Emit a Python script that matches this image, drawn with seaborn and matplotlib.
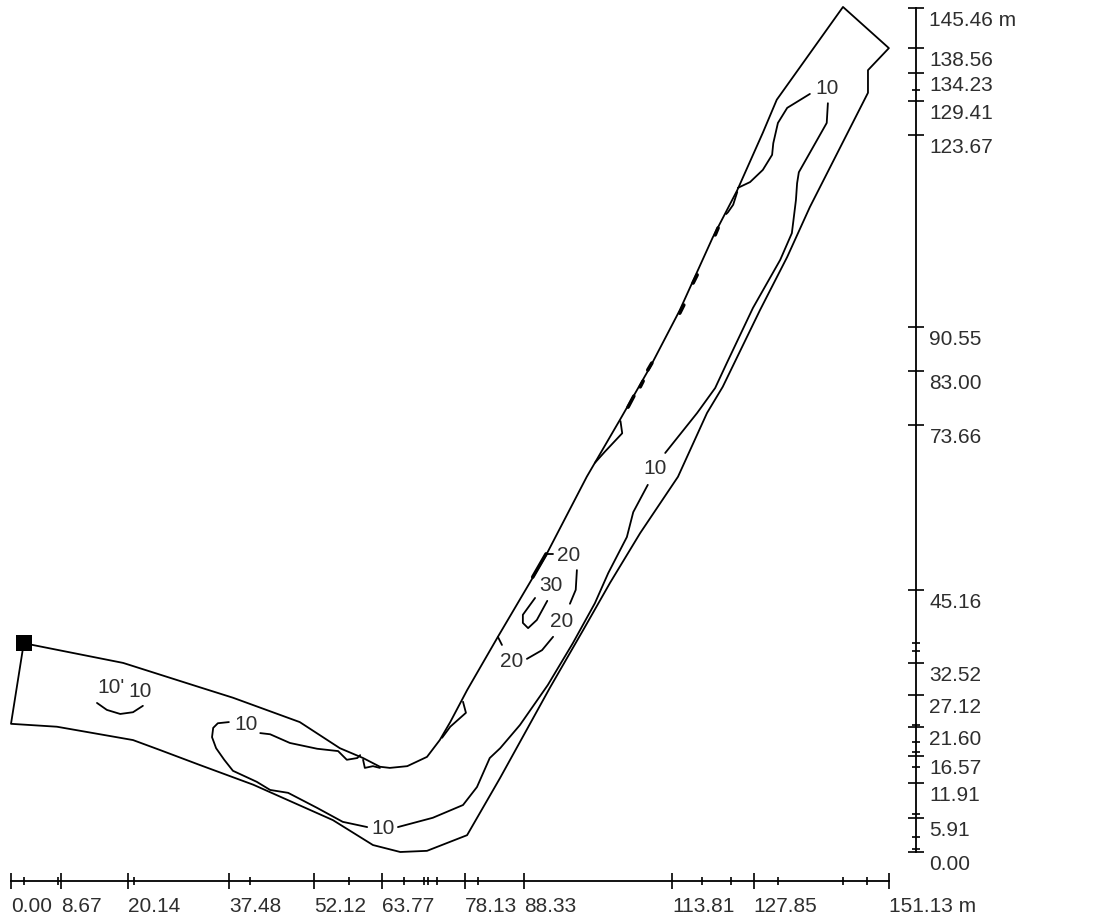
import numpy as np
import pandas as pd
import matplotlib
matplotlib.use("Agg")
import matplotlib.pyplot as plt
import seaborn as sns
from matplotlib.transforms import ScaledTranslation

sns.set_theme(style='white')
plt.rcParams['font.family'] = ['Liberation Sans', 'DejaVu Sans']

# channel outline, metres
outline_x = [2.2, 19.3, 32.5, 38.2, 49.7, 56.6, 60.6, 63.5, 65.2, 68.2, 71.6, 73.8, 75.6, 78.5,
             83.8, 92.1, 99.1, 104.8, 110.0, 115.1, 120.8, 125.0, 129.4, 131.8, 143.2, 151.1,
             147.5, 147.5, 137.5, 133.6, 128.9, 122.5, 119.8, 114.8, 108.3, 103.1, 98.5, 92.8, 84.2, 78.5,
             71.6, 67.0, 62.3, 55.4, 41.7, 32.5, 25.6, 21.0, 7.9, 0.0, 2.2]
outline_y = [36.0, 32.6, 28.4, 26.6, 22.4, 17.9, 16.2, 14.7, 14.5, 14.8, 16.4, 19.3, 22.4, 27.9,
             37.1, 51.2, 64.7, 74.5, 83.6, 93.4, 106.0, 114.1, 124.0, 129.7, 145.7, 138.6,
             134.8, 130.9, 111.2, 102.6, 93.4, 80.2, 75.7, 64.7, 55.0, 46.4, 38.3, 28.4, 12.8, 2.9,
             0.2, 0.0, 1.2, 5.5, 11.6, 15.0, 17.6, 19.3, 21.6, 22.1, 36.0]

# isolines, each broken where its label sits
iso_parts = {
    'arc': ([14.8, 16.5, 18.8, 21.0, 22.7],
            [25.7, 24.5, 23.8, 24.1, 25.2]),
    'low1': ([37.5, 35.6, 34.8, 34.6, 35.3, 36.7, 38.2, 42.3, 44.6, 47.7, 52.7, 57.1, 61.3],
             [22.4, 22.2, 21.4, 19.8, 17.9, 15.9, 14.0, 12.1, 10.7, 10.2, 7.6, 5.2, 4.3]),
    'low2': ([66.6, 72.6, 77.8, 80.2, 82.4, 84.2, 87.6, 92.4, 96.7, 100.5, 102.8, 106.0, 107.1, 109.6],
             [4.3, 5.9, 8.1, 11.2, 16.2, 17.9, 21.9, 28.8, 36.0, 42.9, 48.1, 54.3, 58.6, 63.3]),
    'low3': ([112.6, 118.1, 121.2, 123.2, 127.7, 132.4, 134.4, 135.1, 135.3, 135.6, 140.4, 140.6],
             [68.8, 75.7, 80.0, 84.3, 93.8, 102.1, 106.7, 112.4, 115.3, 117.2, 125.7, 129.1]),
    'low4': ([137.5, 133.6, 132.0, 131.2, 131.0, 129.4, 127.2, 125.1],
             [130.7, 128.3, 125.7, 122.2, 120.2, 117.6, 115.5, 114.5]),
    'top_lens': ([125.0, 124.3, 123.4, 123.1],
                 [113.8, 111.6, 110.3, 110.0]),
    'upper': ([42.9, 44.6, 48.0, 52.7, 56.3, 57.8, 59.6, 60.1],
              [20.5, 20.3, 18.8, 17.8, 17.4, 15.9, 16.2, 16.7]),
    'notch': ([60.6, 60.9, 62.3, 63.5],
              [15.9, 14.5, 14.8, 14.5]),
    'bend_lens': ([77.8, 78.3, 75.6, 74.2],
                  [25.9, 24.0, 21.6, 19.7]),
    'mid_lens': ([104.9, 105.2, 102.2, 100.5],
                 [74.3, 72.2, 69.0, 67.1]),
    'dash20': ([92.1, 93.3],
               [51.4, 51.4]),
    'curve20a': ([97.4, 97.2, 96.2],
                 [48.6, 45.2, 42.8]),
    'loop30': ([90.2, 88.1, 88.1, 89.0, 90.5, 92.3],
               [43.8, 40.9, 39.5, 38.6, 40.0, 43.3]),
    'curve20b': ([93.3, 91.4, 88.8],
                 [37.1, 34.8, 33.3]),
    'mark20': ([83.8, 84.5],
               [37.1, 35.7]),
}
# short stretches where isoline and bank overlap and read as a heavier line
thick_parts = {
    'a': ([89.8, 92.1], [47.4, 51.4]),
    'b': ([106.2, 107.2], [76.7, 78.6]),
    'c': ([108.3, 108.8], [80.2, 81.2]),
    'd': ([109.6, 110.3], [83.1, 84.3]),
    'e': ([115.1, 115.8], [92.9, 94.3]),
    'f': ([117.4, 118.1], [98.1, 99.5]),
    'g': ([121.2, 121.7], [106.4, 107.6]),
}

iso_labels = ["10'", "10", "10", "10", "10", "10", "20", "30", "20", "20"]
iso_label_x = [17.2, 22.2, 40.4, 64.0, 110.8, 140.4, 95.9, 92.9, 94.7, 86.2]
iso_label_y = [28.3, 27.6, 21.9, 4.1, 66.2, 131.7, 51.2, 46.0, 39.8, 32.9]

station_x = [2.2]
station_y = [36.0]

# rulers
x_major = [0.00, 8.67, 20.14, 37.48, 52.12, 63.77, 78.13, 88.33, 113.81, 127.85, 151.13]
x_major_labels = ['0.00', '8.67', '20.14', '37.48', '52.12', '63.77', '78.13', '88.33',
                  '113.81', '127.85', '151.13 m']
x_minor = [2.24, 8.09, 21.17, 41.14, 58.2, 67.7, 71.1, 71.8, 73.3, 80.4, 118.9, 124.0, 132.0, 143.2, 147.3]

y_major = [0.00, 5.91, 11.91, 16.57, 21.60, 27.12, 32.52, 45.16, 73.66, 83.00, 90.55,
           123.67, 129.41, 134.23, 138.56, 145.46]
y_major_labels = ['0.00', '5.91', '11.91', '16.57', '21.60', '27.12', '32.52', '45.16', '73.66',
                  '83.00', '90.55', '123.67', '129.41', '134.23', '138.56', '145.46 m']
y_minor = [0.52, 2.64, 6.55, 14.7, 17.3, 18.97, 21.9, 34.7, 36.03, 131.4]

frames = [pd.DataFrame({'x': outline_x, 'y': outline_y, 'part': 'outline'})]
for name, (px, py) in iso_parts.items():
    frames.append(pd.DataFrame({'x': px, 'y': py, 'part': name}))
lines = pd.concat(frames, ignore_index=True)

thick = pd.concat([pd.DataFrame({'x': px, 'y': py, 'part': name})
                   for name, (px, py) in thick_parts.items()], ignore_index=True)

fig = plt.figure(figsize=(10.98, 9.17), dpi=100)
ax = fig.add_axes([0, 0, 1, 1])
sns.lineplot(data=lines, x='x', y='y', units='part', estimator=None, sort=False,
             color='black', linewidth=1.3, legend=False, ax=ax)
sns.lineplot(data=thick, x='x', y='y', units='part', estimator=None, sort=False,
             color='black', linewidth=2.6, legend=False, ax=ax)
sns.scatterplot(x=station_x, y=station_y, marker='s', s=135, color='black', linewidth=0, ax=ax, zorder=5)

for txt, tx, ty in zip(iso_labels, iso_label_x, iso_label_y):
    ax.text(tx, ty, txt, fontsize=15, color='#2e2e2e', ha='center', va='center')

ax.set_xlabel('')
ax.set_ylabel('')
ax.set_xlim(-11 / 5.81, 1087 / 5.81)
ax.set_ylim(-65 / 5.8, 852 / 5.8)
ax.patch.set_alpha(0)

for side in ['top', 'left']:
    ax.spines[side].set_visible(False)
ax.spines['bottom'].set_position(('data', -5.0))
ax.spines['bottom'].set_bounds(0, 151.13)
ax.spines['right'].set_position(('data', 155.7))
ax.spines['right'].set_bounds(0, 145.46)
for side in ['bottom', 'right']:
    ax.spines[side].set_color('black')
    ax.spines[side].set_linewidth(1.3)

ax.set_xticks(x_major, x_major_labels)
ax.set_xticks(x_minor, minor=True)
ax.yaxis.tick_right()
ax.set_yticks(y_major, y_major_labels)
ax.set_yticks(y_minor, minor=True)

ax.tick_params(which='major', direction='inout', length=11.5, width=1.2, color='black',
               labelsize=15, labelcolor='#2e2e2e', bottom=True, right=True)
ax.tick_params(which='minor', direction='inout', length=5.8, width=1.2, color='black',
               bottom=True, right=True)
ax.tick_params(axis='x', which='major', pad=6)
ax.tick_params(axis='y', which='major', pad=4.2)

for lbl in ax.get_xticklabels():
    lbl.set_ha('left')
    lbl.set_va('top')
drop = ScaledTranslation(0, -3 / 100, fig.dpi_scale_trans)
for lbl in ax.get_yticklabels():
    lbl.set_va('top')
    lbl.set_transform(lbl.get_transform() + drop)

fig.savefig('out.png', dpi=100)
